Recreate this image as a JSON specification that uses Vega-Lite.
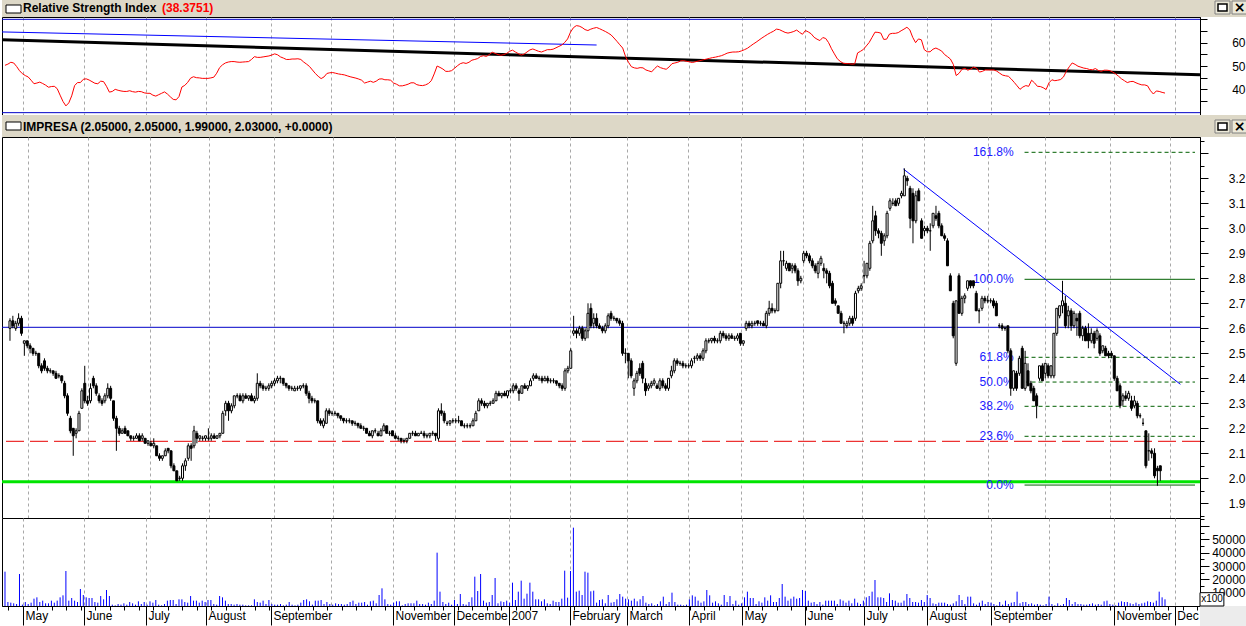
{
"$schema":"https://vega.github.io/schema/vega-lite/v6.json",
"background":"#ffffff",
"padding":0,
"spacing":0,
"bounds":"flush",
"config":{"view":{"stroke":null},"concat":{"spacing":0},"font":"Liberation Sans",
 "axis":{"labelFont":"Liberation Sans","labelFontSize":12,"labelColor":"#000000","tickColor":"#000000","domainColor":"#000000","gridColor":"#a8a8a8","gridDash":[3,3],"gridWidth":1,"title":null}},
"datasets":{
"fib":[{"lab":"161.8%","p":3.304},{"lab":"100.0%","p":2.796},{"lab":"61.8%","p":2.484},{"lab":"50.0%","p":2.385},{"lab":"38.2%","p":2.288},{"lab":"23.6%","p":2.168},{"lab":"0.0%","p":1.973}],
"d":[
{"i":0,"o":2.60,"h":2.64,"l":2.55,"c":2.63,"v":25750,"r":50.3},
{"i":1,"o":2.63,"h":2.65,"l":2.60,"c":2.61,"v":3000,"r":50.8},
{"i":2,"o":2.60,"h":2.63,"l":2.59,"c":2.62,"v":2500,"r":51.6},
{"i":3,"o":2.62,"h":2.66,"l":2.61,"c":2.64,"v":2000,"r":51.3},
{"i":4,"o":2.64,"h":2.65,"l":2.57,"c":2.58,"v":1500,"r":49.8},
{"i":5,"o":2.54,"h":2.55,"l":2.49,"c":2.55,"v":24000,"r":48.0},
{"i":6,"o":2.55,"h":2.55,"l":2.52,"c":2.53,"v":1000,"r":46.7},
{"i":7,"o":2.53,"h":2.54,"l":2.50,"c":2.52,"v":3000,"r":45.9},
{"i":8,"o":2.52,"h":2.52,"l":2.49,"c":2.50,"v":1500,"r":45.3},
{"i":9,"o":2.50,"h":2.51,"l":2.49,"c":2.50,"v":2500,"r":43.9},
{"i":10,"o":2.50,"h":2.50,"l":2.44,"c":2.45,"v":5500,"r":42.4},
{"i":11,"o":2.45,"h":2.46,"l":2.42,"c":2.43,"v":6500,"r":42.7},
{"i":12,"o":2.47,"h":2.48,"l":2.43,"c":2.44,"v":3000,"r":43.1},
{"i":13,"o":2.44,"h":2.45,"l":2.42,"c":2.43,"v":4000,"r":42.5},
{"i":14,"o":2.43,"h":2.44,"l":2.42,"c":2.43,"v":2000,"r":41.8},
{"i":15,"o":2.43,"h":2.43,"l":2.41,"c":2.42,"v":2000,"r":40.9},
{"i":16,"o":2.42,"h":2.43,"l":2.40,"c":2.40,"v":4000,"r":41.2},
{"i":17,"o":2.41,"h":2.42,"l":2.40,"c":2.41,"v":2500,"r":41.3},
{"i":18,"o":2.41,"h":2.41,"l":2.38,"c":2.39,"v":4000,"r":40.3},
{"i":19,"o":2.38,"h":2.39,"l":2.32,"c":2.33,"v":6500,"r":37.5},
{"i":20,"o":2.33,"h":2.34,"l":2.25,"c":2.26,"v":8000,"r":34.8},
{"i":21,"o":2.24,"h":2.25,"l":2.18,"c":2.19,"v":26250,"r":32.9},
{"i":22,"o":2.20,"h":2.20,"l":2.09,"c":2.17,"v":4000,"r":34.2},
{"i":23,"o":2.18,"h":2.20,"l":2.16,"c":2.19,"v":6000,"r":37.2},
{"i":24,"o":2.19,"h":2.27,"l":2.19,"c":2.26,"v":4000,"r":41.6},
{"i":25,"o":2.28,"h":2.36,"l":2.28,"c":2.35,"v":3000,"r":42.9},
{"i":26,"o":2.38,"h":2.45,"l":2.30,"c":2.31,"v":12750,"r":42.9},
{"i":27,"o":2.31,"h":2.33,"l":2.29,"c":2.30,"v":8250,"r":44.3},
{"i":28,"o":2.31,"h":2.38,"l":2.30,"c":2.36,"v":6500,"r":44.5},
{"i":29,"o":2.40,"h":2.41,"l":2.36,"c":2.37,"v":6000,"r":44.0},
{"i":30,"o":2.37,"h":2.38,"l":2.33,"c":2.34,"v":6000,"r":43.3},
{"i":31,"o":2.33,"h":2.34,"l":2.30,"c":2.31,"v":3000,"r":42.6},
{"i":32,"o":2.31,"h":2.32,"l":2.29,"c":2.30,"v":2500,"r":42.4},
{"i":33,"o":2.31,"h":2.34,"l":2.30,"c":2.33,"v":7500,"r":43.5},
{"i":34,"o":2.33,"h":2.38,"l":2.32,"c":2.36,"v":5000,"r":43.3},
{"i":35,"o":2.36,"h":2.37,"l":2.31,"c":2.32,"v":12000,"r":41.3},
{"i":36,"o":2.31,"h":2.31,"l":2.23,"c":2.24,"v":7500,"r":38.8},
{"i":37,"o":2.24,"h":2.25,"l":2.11,"c":2.20,"v":1000,"r":39.1},
{"i":38,"o":2.20,"h":2.21,"l":2.17,"c":2.18,"v":500,"r":40.0},
{"i":39,"o":2.18,"h":2.20,"l":2.18,"c":2.19,"v":1500,"r":39.6},
{"i":40,"o":2.20,"h":2.21,"l":2.18,"c":2.18,"v":1000,"r":39.3},
{"i":41,"o":2.19,"h":2.19,"l":2.17,"c":2.17,"v":2000,"r":39.1},
{"i":42,"o":2.17,"h":2.17,"l":2.15,"c":2.16,"v":1000,"r":39.1},
{"i":43,"o":2.16,"h":2.17,"l":2.15,"c":2.16,"v":3000,"r":39.4},
{"i":44,"o":2.16,"h":2.18,"l":2.16,"c":2.17,"v":2000,"r":39.0},
{"i":45,"o":2.17,"h":2.18,"l":2.15,"c":2.15,"v":1000,"r":38.8},
{"i":46,"o":2.16,"h":2.18,"l":2.15,"c":2.17,"v":3500,"r":39.1},
{"i":47,"o":2.16,"h":2.16,"l":2.14,"c":2.14,"v":1500,"r":39.0},
{"i":48,"o":2.14,"h":2.15,"l":2.13,"c":2.15,"v":3000,"r":38.5},
{"i":49,"o":2.14,"h":2.15,"l":2.13,"c":2.13,"v":1000,"r":38.3},
{"i":50,"o":2.13,"h":2.16,"l":2.12,"c":2.14,"v":3500,"r":38.3},
{"i":51,"o":2.13,"h":2.13,"l":2.09,"c":2.09,"v":2500,"r":37.5},
{"i":52,"o":2.09,"h":2.10,"l":2.07,"c":2.08,"v":4500,"r":37.1},
{"i":53,"o":2.08,"h":2.09,"l":2.07,"c":2.09,"v":1000,"r":37.7},
{"i":54,"o":2.09,"h":2.12,"l":2.09,"c":2.11,"v":500,"r":38.3},
{"i":55,"o":2.12,"h":2.12,"l":2.10,"c":2.11,"v":1500,"r":38.9},
{"i":56,"o":2.11,"h":2.11,"l":2.04,"c":2.05,"v":4000,"r":38.0},
{"i":57,"o":2.05,"h":2.06,"l":2.03,"c":2.03,"v":4500,"r":36.8},
{"i":58,"o":2.03,"h":2.03,"l":1.99,"c":1.99,"v":4500,"r":35.7},
{"i":59,"o":2.00,"h":2.01,"l":1.99,"c":2.00,"v":1500,"r":35.5},
{"i":60,"o":2.00,"h":2.06,"l":1.99,"c":2.05,"v":5000,"r":36.9},
{"i":61,"o":2.05,"h":2.08,"l":2.03,"c":2.07,"v":5000,"r":41.0},
{"i":62,"o":2.08,"h":2.14,"l":2.07,"c":2.13,"v":3000,"r":41.7},
{"i":63,"o":2.13,"h":2.14,"l":2.07,"c":2.12,"v":2500,"r":43.0},
{"i":64,"o":2.13,"h":2.21,"l":2.12,"c":2.19,"v":7500,"r":44.8},
{"i":65,"o":2.18,"h":2.19,"l":2.14,"c":2.16,"v":4000,"r":45.4},
{"i":66,"o":2.16,"h":2.17,"l":2.15,"c":2.17,"v":4000,"r":45.0},
{"i":67,"o":2.16,"h":2.17,"l":2.15,"c":2.16,"v":2500,"r":44.9},
{"i":68,"o":2.16,"h":2.17,"l":2.15,"c":2.17,"v":4000,"r":44.7},
{"i":69,"o":2.16,"h":2.20,"l":2.15,"c":2.16,"v":3000,"r":44.7},
{"i":70,"o":2.16,"h":2.18,"l":2.15,"c":2.17,"v":4500,"r":44.7},
{"i":71,"o":2.17,"h":2.18,"l":2.16,"c":2.16,"v":4500,"r":44.9},
{"i":72,"o":2.16,"h":2.17,"l":2.16,"c":2.17,"v":1500,"r":45.2},
{"i":73,"o":2.17,"h":2.18,"l":2.16,"c":2.18,"v":1000,"r":46.9},
{"i":74,"o":2.18,"h":2.27,"l":2.18,"c":2.26,"v":7500,"r":49.3},
{"i":75,"o":2.27,"h":2.31,"l":2.25,"c":2.30,"v":6500,"r":50.5},
{"i":76,"o":2.30,"h":2.31,"l":2.23,"c":2.27,"v":4000,"r":51.3},
{"i":77,"o":2.27,"h":2.30,"l":2.26,"c":2.29,"v":1500,"r":51.7},
{"i":78,"o":2.29,"h":2.33,"l":2.28,"c":2.33,"v":1500,"r":51.9},
{"i":79,"o":2.33,"h":2.34,"l":2.32,"c":2.33,"v":1000,"r":51.9},
{"i":80,"o":2.33,"h":2.34,"l":2.31,"c":2.31,"v":1500,"r":51.7},
{"i":81,"o":2.31,"h":2.34,"l":2.30,"c":2.33,"v":1000,"r":51.6},
{"i":82,"o":2.33,"h":2.34,"l":2.32,"c":2.32,"v":1000,"r":51.7},
{"i":83,"o":2.32,"h":2.33,"l":2.31,"c":2.33,"v":500,"r":51.8},
{"i":84,"o":2.33,"h":2.34,"l":2.31,"c":2.31,"v":500,"r":51.9},
{"i":85,"o":2.31,"h":2.33,"l":2.30,"c":2.32,"v":500,"r":52.8},
{"i":86,"o":2.32,"h":2.42,"l":2.31,"c":2.38,"v":5000,"r":54.0},
{"i":87,"o":2.38,"h":2.39,"l":2.36,"c":2.37,"v":3000,"r":53.7},
{"i":88,"o":2.37,"h":2.38,"l":2.35,"c":2.36,"v":2500,"r":53.7},
{"i":89,"o":2.36,"h":2.37,"l":2.35,"c":2.36,"v":4000,"r":53.9},
{"i":90,"o":2.36,"h":2.38,"l":2.35,"c":2.37,"v":1500,"r":54.1},
{"i":91,"o":2.37,"h":2.39,"l":2.36,"c":2.38,"v":4500,"r":54.3},
{"i":92,"o":2.38,"h":2.40,"l":2.37,"c":2.39,"v":1500,"r":54.7},
{"i":93,"o":2.39,"h":2.41,"l":2.38,"c":2.40,"v":1000,"r":55.2},
{"i":94,"o":2.40,"h":2.41,"l":2.38,"c":2.40,"v":1000,"r":54.8},
{"i":95,"o":2.40,"h":2.40,"l":2.37,"c":2.38,"v":1500,"r":53.9},
{"i":96,"o":2.38,"h":2.38,"l":2.36,"c":2.37,"v":500,"r":53.4},
{"i":97,"o":2.37,"h":2.37,"l":2.35,"c":2.36,"v":1000,"r":52.8},
{"i":98,"o":2.36,"h":2.37,"l":2.35,"c":2.36,"v":3000,"r":52.8},
{"i":99,"o":2.35,"h":2.37,"l":2.35,"c":2.36,"v":1000,"r":53.0},
{"i":100,"o":2.36,"h":2.37,"l":2.35,"c":2.36,"v":500,"r":53.0},
{"i":101,"o":2.36,"h":2.37,"l":2.35,"c":2.37,"v":1000,"r":53.1},
{"i":102,"o":2.37,"h":2.38,"l":2.36,"c":2.37,"v":2500,"r":52.8},
{"i":103,"o":2.37,"h":2.38,"l":2.33,"c":2.34,"v":4500,"r":51.7},
{"i":104,"o":2.34,"h":2.35,"l":2.30,"c":2.32,"v":5000,"r":50.8},
{"i":105,"o":2.32,"h":2.33,"l":2.30,"c":2.31,"v":3500,"r":49.8},
{"i":106,"o":2.31,"h":2.32,"l":2.30,"c":2.31,"v":1000,"r":48.3},
{"i":107,"o":2.31,"h":2.31,"l":2.22,"c":2.23,"v":4000,"r":46.8},
{"i":108,"o":2.23,"h":2.24,"l":2.21,"c":2.22,"v":4000,"r":45.6},
{"i":109,"o":2.21,"h":2.24,"l":2.20,"c":2.23,"v":4500,"r":44.6},
{"i":110,"o":2.22,"h":2.28,"l":2.22,"c":2.27,"v":1500,"r":45.3},
{"i":111,"o":2.27,"h":2.28,"l":2.25,"c":2.26,"v":3000,"r":46.8},
{"i":112,"o":2.26,"h":2.27,"l":2.25,"c":2.26,"v":1500,"r":47.1},
{"i":113,"o":2.26,"h":2.27,"l":2.25,"c":2.26,"v":1000,"r":47.2},
{"i":114,"o":2.26,"h":2.26,"l":2.24,"c":2.25,"v":2000,"r":46.9},
{"i":115,"o":2.25,"h":2.25,"l":2.23,"c":2.24,"v":1500,"r":46.6},
{"i":116,"o":2.24,"h":2.24,"l":2.22,"c":2.23,"v":1500,"r":46.4},
{"i":117,"o":2.23,"h":2.24,"l":2.22,"c":2.23,"v":1000,"r":46.2},
{"i":118,"o":2.23,"h":2.24,"l":2.22,"c":2.23,"v":1500,"r":45.8},
{"i":119,"o":2.23,"h":2.23,"l":2.21,"c":2.22,"v":3000,"r":45.4},
{"i":120,"o":2.22,"h":2.23,"l":2.21,"c":2.22,"v":4000,"r":45.1},
{"i":121,"o":2.22,"h":2.22,"l":2.20,"c":2.21,"v":1500,"r":44.8},
{"i":122,"o":2.21,"h":2.22,"l":2.20,"c":2.20,"v":2500,"r":44.4},
{"i":123,"o":2.20,"h":2.21,"l":2.19,"c":2.20,"v":2500,"r":43.9},
{"i":124,"o":2.20,"h":2.20,"l":2.18,"c":2.18,"v":3000,"r":42.7},
{"i":125,"o":2.18,"h":2.19,"l":2.17,"c":2.17,"v":1000,"r":43.1},
{"i":126,"o":2.17,"h":2.19,"l":2.16,"c":2.19,"v":3500,"r":43.5},
{"i":127,"o":2.19,"h":2.20,"l":2.18,"c":2.19,"v":4000,"r":43.0},
{"i":128,"o":2.18,"h":2.19,"l":2.17,"c":2.17,"v":2000,"r":43.5},
{"i":129,"o":2.17,"h":2.20,"l":2.17,"c":2.19,"v":8250,"r":44.4},
{"i":130,"o":2.19,"h":2.22,"l":2.19,"c":2.21,"v":13250,"r":44.5},
{"i":131,"o":2.21,"h":2.21,"l":2.18,"c":2.18,"v":5000,"r":44.1},
{"i":132,"o":2.18,"h":2.19,"l":2.17,"c":2.18,"v":1500,"r":44.1},
{"i":133,"o":2.19,"h":2.19,"l":2.17,"c":2.17,"v":1000,"r":43.9},
{"i":134,"o":2.17,"h":2.18,"l":2.16,"c":2.16,"v":2500,"r":42.7},
{"i":135,"o":2.16,"h":2.17,"l":2.15,"c":2.16,"v":3500,"r":42.2},
{"i":136,"o":2.16,"h":2.16,"l":2.14,"c":2.15,"v":3500,"r":41.5},
{"i":137,"o":2.15,"h":2.16,"l":2.14,"c":2.15,"v":500,"r":41.5},
{"i":138,"o":2.15,"h":2.16,"l":2.14,"c":2.16,"v":1500,"r":41.8},
{"i":139,"o":2.16,"h":2.18,"l":2.16,"c":2.18,"v":2000,"r":42.2},
{"i":140,"o":2.18,"h":2.19,"l":2.17,"c":2.18,"v":2000,"r":42.8},
{"i":141,"o":2.18,"h":2.19,"l":2.17,"c":2.17,"v":2000,"r":42.8},
{"i":142,"o":2.17,"h":2.18,"l":2.17,"c":2.18,"v":4000,"r":42.0},
{"i":143,"o":2.18,"h":2.19,"l":2.18,"c":2.18,"v":1500,"r":41.7},
{"i":144,"o":2.18,"h":2.19,"l":2.16,"c":2.17,"v":1500,"r":41.6},
{"i":145,"o":2.17,"h":2.18,"l":2.16,"c":2.17,"v":1000,"r":41.9},
{"i":146,"o":2.17,"h":2.18,"l":2.16,"c":2.18,"v":2500,"r":42.5},
{"i":147,"o":2.18,"h":2.19,"l":2.17,"c":2.18,"v":1500,"r":43.7},
{"i":148,"o":2.18,"h":2.18,"l":2.15,"c":2.17,"v":4000,"r":46.6},
{"i":149,"o":2.16,"h":2.28,"l":2.15,"c":2.27,"v":40000,"r":50.0},
{"i":150,"o":2.27,"h":2.30,"l":2.25,"c":2.26,"v":10750,"r":49.4},
{"i":151,"o":2.26,"h":2.27,"l":2.22,"c":2.23,"v":3000,"r":48.7},
{"i":152,"o":2.22,"h":2.23,"l":2.21,"c":2.22,"v":1500,"r":47.7},
{"i":153,"o":2.22,"h":2.23,"l":2.21,"c":2.23,"v":2500,"r":47.7},
{"i":154,"o":2.23,"h":2.24,"l":2.22,"c":2.23,"v":1000,"r":48.0},
{"i":155,"o":2.23,"h":2.24,"l":2.22,"c":2.23,"v":4500,"r":49.0},
{"i":156,"o":2.23,"h":2.25,"l":2.22,"c":2.23,"v":1500,"r":50.1},
{"i":157,"o":2.23,"h":2.23,"l":2.21,"c":2.21,"v":9000,"r":51.0},
{"i":158,"o":2.21,"h":2.22,"l":2.20,"c":2.21,"v":1500,"r":51.4},
{"i":159,"o":2.21,"h":2.22,"l":2.20,"c":2.21,"v":1000,"r":51.1},
{"i":160,"o":2.21,"h":2.22,"l":2.20,"c":2.21,"v":3000,"r":51.6},
{"i":161,"o":2.21,"h":2.24,"l":2.21,"c":2.23,"v":6500,"r":52.5},
{"i":162,"o":2.23,"h":2.27,"l":2.23,"c":2.26,"v":22000,"r":52.8},
{"i":163,"o":2.27,"h":2.32,"l":2.27,"c":2.31,"v":11250,"r":53.2},
{"i":164,"o":2.31,"h":2.32,"l":2.29,"c":2.30,"v":24000,"r":54.1},
{"i":165,"o":2.30,"h":2.31,"l":2.28,"c":2.29,"v":4000,"r":54.4},
{"i":166,"o":2.29,"h":2.30,"l":2.28,"c":2.30,"v":2500,"r":54.1},
{"i":167,"o":2.30,"h":2.31,"l":2.29,"c":2.30,"v":3000,"r":54.9},
{"i":168,"o":2.30,"h":2.32,"l":2.30,"c":2.31,"v":8250,"r":55.9},
{"i":169,"o":2.31,"h":2.35,"l":2.31,"c":2.34,"v":21000,"r":55.4},
{"i":170,"o":2.34,"h":2.35,"l":2.33,"c":2.33,"v":2000,"r":54.9},
{"i":171,"o":2.33,"h":2.34,"l":2.32,"c":2.34,"v":3500,"r":54.6},
{"i":172,"o":2.34,"h":2.35,"l":2.33,"c":2.33,"v":3000,"r":54.9},
{"i":173,"o":2.33,"h":2.35,"l":2.32,"c":2.35,"v":4000,"r":55.4},
{"i":174,"o":2.35,"h":2.36,"l":2.34,"c":2.35,"v":2500,"r":56.3},
{"i":175,"o":2.35,"h":2.38,"l":2.34,"c":2.37,"v":17500,"r":56.8},
{"i":176,"o":2.37,"h":2.38,"l":2.35,"c":2.36,"v":4500,"r":56.0},
{"i":177,"o":2.35,"h":2.36,"l":2.31,"c":2.34,"v":10750,"r":55.3},
{"i":178,"o":2.34,"h":2.37,"l":2.34,"c":2.37,"v":19000,"r":54.7},
{"i":179,"o":2.37,"h":2.38,"l":2.36,"c":2.36,"v":5500,"r":55.1},
{"i":180,"o":2.36,"h":2.37,"l":2.35,"c":2.37,"v":9250,"r":56.0},
{"i":181,"o":2.37,"h":2.40,"l":2.37,"c":2.39,"v":17500,"r":56.9},
{"i":182,"o":2.40,"h":2.42,"l":2.39,"c":2.41,"v":10750,"r":57.3},
{"i":183,"o":2.41,"h":2.42,"l":2.40,"c":2.40,"v":5000,"r":56.8},
{"i":184,"o":2.40,"h":2.41,"l":2.39,"c":2.40,"v":5000,"r":56.3},
{"i":185,"o":2.40,"h":2.41,"l":2.38,"c":2.39,"v":3500,"r":56.0},
{"i":186,"o":2.39,"h":2.41,"l":2.39,"c":2.40,"v":5000,"r":56.5},
{"i":187,"o":2.40,"h":2.41,"l":2.38,"c":2.39,"v":2000,"r":57.0},
{"i":188,"o":2.39,"h":2.40,"l":2.38,"c":2.39,"v":1500,"r":57.0},
{"i":189,"o":2.39,"h":2.40,"l":2.38,"c":2.39,"v":4000,"r":57.2},
{"i":190,"o":2.39,"h":2.39,"l":2.37,"c":2.38,"v":3000,"r":57.8},
{"i":191,"o":2.38,"h":2.38,"l":2.36,"c":2.37,"v":3000,"r":58.4},
{"i":192,"o":2.37,"h":2.38,"l":2.35,"c":2.36,"v":5500,"r":59.0},
{"i":193,"o":2.36,"h":2.44,"l":2.35,"c":2.43,"v":26500,"r":60.1},
{"i":194,"o":2.43,"h":2.45,"l":2.42,"c":2.44,"v":6250,"r":61.6},
{"i":195,"o":2.44,"h":2.52,"l":2.44,"c":2.51,"v":26250,"r":64.5},
{"i":196,"o":2.58,"h":2.65,"l":2.57,"c":2.59,"v":58750,"r":66.4},
{"i":197,"o":2.59,"h":2.60,"l":2.56,"c":2.58,"v":10750,"r":67.3},
{"i":198,"o":2.58,"h":2.61,"l":2.57,"c":2.60,"v":11500,"r":67.1},
{"i":199,"o":2.60,"h":2.61,"l":2.55,"c":2.56,"v":8250,"r":66.5},
{"i":200,"o":2.56,"h":2.60,"l":2.55,"c":2.59,"v":25750,"r":65.6},
{"i":201,"o":2.59,"h":2.70,"l":2.56,"c":2.66,"v":25000,"r":65.2},
{"i":202,"o":2.68,"h":2.70,"l":2.60,"c":2.61,"v":11000,"r":65.8},
{"i":203,"o":2.62,"h":2.66,"l":2.60,"c":2.64,"v":11500,"r":66.2},
{"i":204,"o":2.64,"h":2.66,"l":2.60,"c":2.61,"v":2500,"r":66.5},
{"i":205,"o":2.61,"h":2.62,"l":2.60,"c":2.60,"v":4500,"r":66.0},
{"i":206,"o":2.60,"h":2.61,"l":2.58,"c":2.59,"v":5000,"r":65.4},
{"i":207,"o":2.59,"h":2.62,"l":2.58,"c":2.61,"v":2000,"r":64.8},
{"i":208,"o":2.61,"h":2.66,"l":2.60,"c":2.65,"v":8250,"r":64.1},
{"i":209,"o":2.66,"h":2.67,"l":2.63,"c":2.64,"v":2500,"r":63.3},
{"i":210,"o":2.64,"h":2.65,"l":2.63,"c":2.64,"v":3000,"r":62.0},
{"i":211,"o":2.64,"h":2.64,"l":2.62,"c":2.63,"v":5000,"r":60.6},
{"i":212,"o":2.63,"h":2.64,"l":2.61,"c":2.62,"v":9000,"r":59.1},
{"i":213,"o":2.62,"h":2.63,"l":2.49,"c":2.50,"v":7000,"r":57.7},
{"i":214,"o":2.50,"h":2.52,"l":2.46,"c":2.50,"v":5500,"r":54.0},
{"i":215,"o":2.50,"h":2.50,"l":2.40,"c":2.47,"v":5000,"r":51.6},
{"i":216,"o":2.47,"h":2.48,"l":2.40,"c":2.41,"v":4000,"r":49.7},
{"i":217,"o":2.36,"h":2.40,"l":2.33,"c":2.39,"v":5500,"r":49.2},
{"i":218,"o":2.39,"h":2.43,"l":2.38,"c":2.42,"v":3500,"r":49.0},
{"i":219,"o":2.44,"h":2.46,"l":2.41,"c":2.42,"v":5000,"r":49.3},
{"i":220,"o":2.46,"h":2.47,"l":2.38,"c":2.40,"v":7500,"r":49.2},
{"i":221,"o":2.38,"h":2.40,"l":2.33,"c":2.35,"v":2500,"r":48.3},
{"i":222,"o":2.36,"h":2.38,"l":2.35,"c":2.37,"v":1500,"r":47.9},
{"i":223,"o":2.37,"h":2.39,"l":2.36,"c":2.38,"v":2000,"r":47.5},
{"i":224,"o":2.38,"h":2.40,"l":2.37,"c":2.39,"v":500,"r":48.9},
{"i":225,"o":2.37,"h":2.38,"l":2.36,"c":2.36,"v":1500,"r":50.0},
{"i":226,"o":2.36,"h":2.40,"l":2.35,"c":2.39,"v":3500,"r":49.3},
{"i":227,"o":2.39,"h":2.40,"l":2.36,"c":2.37,"v":7000,"r":48.9},
{"i":228,"o":2.37,"h":2.38,"l":2.35,"c":2.36,"v":1500,"r":48.6},
{"i":229,"o":2.36,"h":2.40,"l":2.35,"c":2.40,"v":3000,"r":49.6},
{"i":230,"o":2.41,"h":2.45,"l":2.40,"c":2.43,"v":10000,"r":51.0},
{"i":231,"o":2.43,"h":2.48,"l":2.42,"c":2.47,"v":3000,"r":51.3},
{"i":232,"o":2.47,"h":2.48,"l":2.45,"c":2.46,"v":1000,"r":51.6},
{"i":233,"o":2.46,"h":2.47,"l":2.45,"c":2.46,"v":1000,"r":52.2},
{"i":234,"o":2.46,"h":2.47,"l":2.44,"c":2.45,"v":500,"r":52.3},
{"i":235,"o":2.45,"h":2.46,"l":2.44,"c":2.45,"v":1000,"r":52.0},
{"i":236,"o":2.45,"h":2.46,"l":2.44,"c":2.45,"v":5000,"r":51.8},
{"i":237,"o":2.45,"h":2.48,"l":2.44,"c":2.47,"v":8000,"r":51.5},
{"i":238,"o":2.48,"h":2.49,"l":2.46,"c":2.48,"v":7000,"r":51.8},
{"i":239,"o":2.48,"h":2.50,"l":2.47,"c":2.49,"v":4000,"r":52.1},
{"i":240,"o":2.49,"h":2.50,"l":2.47,"c":2.48,"v":2500,"r":52.4},
{"i":241,"o":2.48,"h":2.52,"l":2.47,"c":2.51,"v":3500,"r":52.7},
{"i":242,"o":2.51,"h":2.56,"l":2.50,"c":2.55,"v":12000,"r":53.0},
{"i":243,"o":2.55,"h":2.56,"l":2.54,"c":2.55,"v":8000,"r":53.3},
{"i":244,"o":2.55,"h":2.56,"l":2.54,"c":2.56,"v":2500,"r":53.6},
{"i":245,"o":2.56,"h":2.57,"l":2.54,"c":2.55,"v":3500,"r":53.8},
{"i":246,"o":2.55,"h":2.56,"l":2.54,"c":2.55,"v":2000,"r":54.1},
{"i":247,"o":2.55,"h":2.59,"l":2.54,"c":2.58,"v":1000,"r":54.4},
{"i":248,"o":2.58,"h":2.59,"l":2.56,"c":2.57,"v":8250,"r":54.9},
{"i":249,"o":2.57,"h":2.58,"l":2.55,"c":2.56,"v":3000,"r":55.5},
{"i":250,"o":2.56,"h":2.58,"l":2.55,"c":2.57,"v":7500,"r":55.8},
{"i":251,"o":2.57,"h":2.58,"l":2.56,"c":2.56,"v":1500,"r":56.0},
{"i":252,"o":2.56,"h":2.57,"l":2.55,"c":2.56,"v":4000,"r":56.0},
{"i":253,"o":2.56,"h":2.58,"l":2.55,"c":2.57,"v":1000,"r":56.1},
{"i":254,"o":2.58,"h":2.58,"l":2.53,"c":2.54,"v":2000,"r":56.5},
{"i":255,"o":2.54,"h":2.55,"l":2.53,"c":2.55,"v":6500,"r":57.0},
{"i":256,"o":2.60,"h":2.63,"l":2.59,"c":2.62,"v":10750,"r":57.6},
{"i":257,"o":2.62,"h":2.63,"l":2.60,"c":2.61,"v":6000,"r":58.5},
{"i":258,"o":2.61,"h":2.63,"l":2.60,"c":2.62,"v":6000,"r":59.4},
{"i":259,"o":2.62,"h":2.63,"l":2.61,"c":2.62,"v":1500,"r":60.2},
{"i":260,"o":2.63,"h":2.63,"l":2.61,"c":2.62,"v":3500,"r":61.1},
{"i":261,"o":2.62,"h":2.63,"l":2.61,"c":2.62,"v":2500,"r":62.0},
{"i":262,"o":2.62,"h":2.63,"l":2.61,"c":2.61,"v":6500,"r":62.8},
{"i":263,"o":2.61,"h":2.67,"l":2.60,"c":2.66,"v":4000,"r":63.6},
{"i":264,"o":2.66,"h":2.71,"l":2.65,"c":2.68,"v":8000,"r":64.3},
{"i":265,"o":2.68,"h":2.70,"l":2.66,"c":2.67,"v":3000,"r":64.9},
{"i":266,"o":2.67,"h":2.68,"l":2.66,"c":2.67,"v":3000,"r":65.8},
{"i":267,"o":2.67,"h":2.78,"l":2.67,"c":2.78,"v":6000,"r":65.6},
{"i":268,"o":2.78,"h":2.91,"l":2.76,"c":2.87,"v":16500,"r":65.0},
{"i":269,"o":2.87,"h":2.91,"l":2.85,"c":2.87,"v":7000,"r":64.4},
{"i":270,"o":2.84,"h":2.87,"l":2.83,"c":2.86,"v":4000,"r":64.1},
{"i":271,"o":2.86,"h":2.86,"l":2.83,"c":2.83,"v":5500,"r":64.4},
{"i":272,"o":2.84,"h":2.86,"l":2.82,"c":2.85,"v":7000,"r":64.8},
{"i":273,"o":2.85,"h":2.86,"l":2.82,"c":2.83,"v":5500,"r":65.4},
{"i":274,"o":2.83,"h":2.84,"l":2.77,"c":2.79,"v":6000,"r":64.4},
{"i":275,"o":2.79,"h":2.81,"l":2.78,"c":2.80,"v":12000,"r":63.6},
{"i":276,"o":2.87,"h":2.91,"l":2.86,"c":2.90,"v":11250,"r":65.2},
{"i":277,"o":2.90,"h":2.91,"l":2.88,"c":2.89,"v":4000,"r":64.6},
{"i":278,"o":2.89,"h":2.90,"l":2.86,"c":2.87,"v":2500,"r":63.8},
{"i":279,"o":2.87,"h":2.88,"l":2.84,"c":2.85,"v":3000,"r":62.3},
{"i":280,"o":2.85,"h":2.86,"l":2.82,"c":2.83,"v":1500,"r":61.5},
{"i":281,"o":2.82,"h":2.87,"l":2.80,"c":2.86,"v":3000,"r":60.9},
{"i":282,"o":2.86,"h":2.89,"l":2.85,"c":2.88,"v":1000,"r":62.2},
{"i":283,"o":2.84,"h":2.86,"l":2.80,"c":2.83,"v":4000,"r":61.8},
{"i":284,"o":2.83,"h":2.84,"l":2.78,"c":2.82,"v":4000,"r":60.0},
{"i":285,"o":2.82,"h":2.83,"l":2.76,"c":2.77,"v":4000,"r":57.4},
{"i":286,"o":2.78,"h":2.79,"l":2.70,"c":2.70,"v":4000,"r":55.2},
{"i":287,"o":2.71,"h":2.72,"l":2.69,"c":2.70,"v":1500,"r":53.1},
{"i":288,"o":2.69,"h":2.69,"l":2.66,"c":2.66,"v":5000,"r":52.0},
{"i":289,"o":2.66,"h":2.67,"l":2.62,"c":2.62,"v":4000,"r":51.2},
{"i":290,"o":2.62,"h":2.63,"l":2.58,"c":2.62,"v":2500,"r":51.0},
{"i":291,"o":2.61,"h":2.63,"l":2.60,"c":2.62,"v":4000,"r":51.0},
{"i":292,"o":2.62,"h":2.65,"l":2.61,"c":2.64,"v":2000,"r":50.8},
{"i":293,"o":2.64,"h":2.65,"l":2.61,"c":2.62,"v":5500,"r":50.9},
{"i":294,"o":2.64,"h":2.75,"l":2.63,"c":2.74,"v":2500,"r":55.6},
{"i":295,"o":2.75,"h":2.77,"l":2.74,"c":2.76,"v":1500,"r":56.3},
{"i":296,"o":2.76,"h":2.78,"l":2.75,"c":2.77,"v":4000,"r":57.1},
{"i":297,"o":2.81,"h":2.87,"l":2.78,"c":2.81,"v":6500,"r":58.6},
{"i":298,"o":2.81,"h":2.86,"l":2.80,"c":2.86,"v":7500,"r":60.1},
{"i":299,"o":2.84,"h":2.95,"l":2.83,"c":2.94,"v":10750,"r":62.3},
{"i":300,"o":2.95,"h":3.09,"l":2.94,"c":3.03,"v":19500,"r":64.5},
{"i":301,"o":3.05,"h":3.07,"l":2.97,"c":2.99,"v":6500,"r":64.4},
{"i":302,"o":2.99,"h":3.00,"l":2.96,"c":2.98,"v":6500,"r":64.1},
{"i":303,"o":2.98,"h":2.99,"l":2.89,"c":2.94,"v":6000,"r":61.4},
{"i":304,"o":2.95,"h":2.98,"l":2.93,"c":2.97,"v":3000,"r":61.5},
{"i":305,"o":2.97,"h":3.07,"l":2.96,"c":3.06,"v":9500,"r":63.7},
{"i":306,"o":3.08,"h":3.12,"l":3.07,"c":3.11,"v":4500,"r":64.0},
{"i":307,"o":3.10,"h":3.12,"l":3.09,"c":3.10,"v":4000,"r":64.0},
{"i":308,"o":3.11,"h":3.12,"l":3.09,"c":3.09,"v":2500,"r":64.3},
{"i":309,"o":3.10,"h":3.12,"l":3.09,"c":3.12,"v":2500,"r":65.1},
{"i":310,"o":3.13,"h":3.15,"l":3.12,"c":3.14,"v":4000,"r":65.8},
{"i":311,"o":3.13,"h":3.24,"l":3.13,"c":3.21,"v":9000,"r":66.6},
{"i":312,"o":3.20,"h":3.21,"l":3.17,"c":3.19,"v":6000,"r":65.5},
{"i":313,"o":3.16,"h":3.17,"l":3.00,"c":3.04,"v":3000,"r":62.3},
{"i":314,"o":3.14,"h":3.16,"l":2.94,"c":3.03,"v":3000,"r":60.0},
{"i":315,"o":3.03,"h":3.15,"l":3.02,"c":3.13,"v":2500,"r":61.6},
{"i":316,"o":3.15,"h":3.16,"l":3.11,"c":3.11,"v":4500,"r":61.2},
{"i":317,"o":3.03,"h":3.04,"l":2.96,"c":2.96,"v":3000,"r":57.0},
{"i":318,"o":2.99,"h":3.01,"l":2.97,"c":3.00,"v":8250,"r":56.1},
{"i":319,"o":3.00,"h":3.01,"l":2.98,"c":2.99,"v":6000,"r":56.1},
{"i":320,"o":2.99,"h":3.02,"l":2.91,"c":2.99,"v":2000,"r":57.2},
{"i":321,"o":3.01,"h":3.06,"l":3.00,"c":3.06,"v":1500,"r":57.7},
{"i":322,"o":3.05,"h":3.09,"l":3.03,"c":3.04,"v":2500,"r":57.1},
{"i":323,"o":3.06,"h":3.07,"l":3.00,"c":3.01,"v":2500,"r":56.4},
{"i":324,"o":3.01,"h":3.02,"l":2.97,"c":2.97,"v":2500,"r":54.9},
{"i":325,"o":2.97,"h":2.98,"l":2.95,"c":2.96,"v":1500,"r":54.0},
{"i":326,"o":2.95,"h":2.96,"l":2.85,"c":2.85,"v":1000,"r":53.0},
{"i":327,"o":2.81,"h":2.82,"l":2.75,"c":2.75,"v":2000,"r":50.7},
{"i":328,"o":2.70,"h":2.71,"l":2.56,"c":2.57,"v":3500,"r":45.9},
{"i":329,"o":2.46,"h":2.71,"l":2.45,"c":2.71,"v":8250,"r":46.9},
{"i":330,"o":2.81,"h":2.82,"l":2.66,"c":2.66,"v":4500,"r":48.6},
{"i":331,"o":2.66,"h":2.73,"l":2.65,"c":2.72,"v":1500,"r":49.0},
{"i":332,"o":2.72,"h":2.74,"l":2.70,"c":2.73,"v":7000,"r":48.2},
{"i":333,"o":2.76,"h":2.79,"l":2.75,"c":2.79,"v":7000,"r":48.7},
{"i":334,"o":2.79,"h":2.79,"l":2.76,"c":2.77,"v":2000,"r":49.5},
{"i":335,"o":2.79,"h":2.79,"l":2.76,"c":2.77,"v":1000,"r":49.1},
{"i":336,"o":2.74,"h":2.75,"l":2.67,"c":2.67,"v":2500,"r":47.4},
{"i":337,"o":2.67,"h":2.68,"l":2.62,"c":2.67,"v":4000,"r":47.7},
{"i":338,"o":2.68,"h":2.73,"l":2.67,"c":2.72,"v":1500,"r":48.3},
{"i":339,"o":2.72,"h":2.73,"l":2.70,"c":2.71,"v":3000,"r":48.3},
{"i":340,"o":2.71,"h":2.73,"l":2.70,"c":2.71,"v":2500,"r":48.3},
{"i":341,"o":2.71,"h":2.72,"l":2.70,"c":2.71,"v":1500,"r":48.3},
{"i":342,"o":2.71,"h":2.72,"l":2.68,"c":2.69,"v":500,"r":47.8},
{"i":343,"o":2.70,"h":2.71,"l":2.65,"c":2.65,"v":3000,"r":46.9},
{"i":344,"o":2.61,"h":2.62,"l":2.60,"c":2.61,"v":1000,"r":46.1},
{"i":345,"o":2.61,"h":2.62,"l":2.59,"c":2.60,"v":4000,"r":45.8},
{"i":346,"o":2.60,"h":2.61,"l":2.59,"c":2.60,"v":1500,"r":45.6},
{"i":347,"o":2.61,"h":2.61,"l":2.50,"c":2.51,"v":2500,"r":44.4},
{"i":348,"o":2.51,"h":2.52,"l":2.33,"c":2.36,"v":3000,"r":43.0},
{"i":349,"o":2.36,"h":2.43,"l":2.35,"c":2.43,"v":10750,"r":41.5},
{"i":350,"o":2.42,"h":2.43,"l":2.35,"c":2.36,"v":2000,"r":40.0},
{"i":351,"o":2.42,"h":2.49,"l":2.41,"c":2.48,"v":3000,"r":41.0},
{"i":352,"o":2.52,"h":2.53,"l":2.36,"c":2.36,"v":3000,"r":41.6},
{"i":353,"o":2.36,"h":2.51,"l":2.35,"c":2.46,"v":1500,"r":41.3},
{"i":354,"o":2.43,"h":2.46,"l":2.37,"c":2.37,"v":2000,"r":43.9},
{"i":355,"o":2.38,"h":2.39,"l":2.34,"c":2.35,"v":1000,"r":42.8},
{"i":356,"o":2.36,"h":2.37,"l":2.31,"c":2.31,"v":1500,"r":41.3},
{"i":357,"o":2.33,"h":2.34,"l":2.24,"c":2.29,"v":1000,"r":41.2},
{"i":358,"o":2.40,"h":2.45,"l":2.39,"c":2.45,"v":500,"r":40.7},
{"i":359,"o":2.45,"h":2.46,"l":2.39,"c":2.39,"v":1500,"r":39.9},
{"i":360,"o":2.42,"h":2.46,"l":2.40,"c":2.46,"v":7000,"r":42.8},
{"i":361,"o":2.45,"h":2.46,"l":2.40,"c":2.41,"v":1500,"r":44.1},
{"i":362,"o":2.41,"h":2.45,"l":2.40,"c":2.45,"v":500,"r":43.7},
{"i":363,"o":2.41,"h":2.58,"l":2.40,"c":2.58,"v":2000,"r":43.9},
{"i":364,"o":2.58,"h":2.68,"l":2.57,"c":2.68,"v":500,"r":44.2},
{"i":365,"o":2.65,"h":2.69,"l":2.64,"c":2.69,"v":1500,"r":45.3},
{"i":366,"o":2.69,"h":2.79,"l":2.66,"c":2.71,"v":6000,"r":47.8},
{"i":367,"o":2.70,"h":2.73,"l":2.60,"c":2.61,"v":4500,"r":49.7},
{"i":368,"o":2.65,"h":2.69,"l":2.60,"c":2.67,"v":1500,"r":51.3},
{"i":369,"o":2.67,"h":2.68,"l":2.59,"c":2.61,"v":3000,"r":50.7},
{"i":370,"o":2.61,"h":2.67,"l":2.60,"c":2.66,"v":1500,"r":49.9},
{"i":371,"o":2.64,"h":2.66,"l":2.57,"c":2.63,"v":1500,"r":49.5},
{"i":372,"o":2.66,"h":2.67,"l":2.56,"c":2.57,"v":1000,"r":49.1},
{"i":373,"o":2.57,"h":2.61,"l":2.55,"c":2.60,"v":1000,"r":48.9},
{"i":374,"o":2.60,"h":2.61,"l":2.55,"c":2.55,"v":1500,"r":48.5},
{"i":375,"o":2.58,"h":2.62,"l":2.52,"c":2.55,"v":2000,"r":48.4},
{"i":376,"o":2.55,"h":2.60,"l":2.54,"c":2.58,"v":1000,"r":48.9},
{"i":377,"o":2.58,"h":2.59,"l":2.52,"c":2.54,"v":1500,"r":48.1},
{"i":378,"o":2.56,"h":2.60,"l":2.55,"c":2.59,"v":1000,"r":47.7},
{"i":379,"o":2.57,"h":2.58,"l":2.49,"c":2.50,"v":3500,"r":48.2},
{"i":380,"o":2.51,"h":2.53,"l":2.50,"c":2.53,"v":4000,"r":48.2},
{"i":381,"o":2.52,"h":2.53,"l":2.49,"c":2.49,"v":1500,"r":48.0},
{"i":382,"o":2.50,"h":2.51,"l":2.48,"c":2.49,"v":1000,"r":47.4},
{"i":383,"o":2.50,"h":2.51,"l":2.48,"c":2.49,"v":500,"r":46.6},
{"i":384,"o":2.49,"h":2.49,"l":2.39,"c":2.40,"v":2500,"r":45.6},
{"i":385,"o":2.40,"h":2.41,"l":2.35,"c":2.35,"v":3500,"r":44.5},
{"i":386,"o":2.37,"h":2.38,"l":2.28,"c":2.29,"v":3000,"r":43.7},
{"i":387,"o":2.31,"h":2.34,"l":2.29,"c":2.33,"v":3000,"r":42.9},
{"i":388,"o":2.33,"h":2.35,"l":2.31,"c":2.32,"v":2000,"r":43.3},
{"i":389,"o":2.32,"h":2.35,"l":2.31,"c":2.34,"v":1500,"r":43.4},
{"i":390,"o":2.31,"h":2.33,"l":2.27,"c":2.28,"v":2500,"r":42.8},
{"i":391,"o":2.29,"h":2.33,"l":2.28,"c":2.31,"v":1500,"r":42.3},
{"i":392,"o":2.30,"h":2.31,"l":2.24,"c":2.25,"v":2000,"r":41.9},
{"i":393,"o":2.25,"h":2.26,"l":2.24,"c":2.25,"v":2500,"r":41.9},
{"i":394,"o":2.22,"h":2.24,"l":2.21,"c":2.22,"v":3500,"r":41.5},
{"i":395,"o":2.19,"h":2.19,"l":2.04,"c":2.05,"v":3000,"r":39.4},
{"i":396,"o":2.11,"h":2.18,"l":2.07,"c":2.11,"v":2500,"r":38.0},
{"i":397,"o":2.11,"h":2.12,"l":2.08,"c":2.10,"v":4000,"r":39.3},
{"i":398,"o":2.10,"h":2.12,"l":2.00,"c":2.01,"v":10750,"r":39.1},
{"i":399,"o":2.04,"h":2.05,"l":1.97,"c":2.03,"v":6500,"r":38.7},
{"i":400,"o":2.05,"h":2.05,"l":1.99,"c":2.03,"v":5000,"r":38.4}
]},
"vconcat":[
{"width":1246,"height":17,"view":{"fill":"#ddd8c7","stroke":null},"data":{"values":[{}]},
 "layer":[
  {"mark":{"type":"rect","x":4,"x2":19,"y":5,"y2":13,"fill":"#ffffff","stroke":"#000000","strokeWidth":1},"encoding":{}},
  {"mark":{"type":"text","text":"Relative Strength Index","x":21,"y":8,"align":"left","baseline":"middle","fontWeight":"bold","fontSize":12,"font":"Liberation Sans","color":"#000000"},"encoding":{}},
  {"mark":{"type":"text","text":"(38.3751)","x":160,"y":8,"align":"left","baseline":"middle","fontWeight":"bold","fontSize":12,"font":"Liberation Sans","color":"#ff0000"},"encoding":{}},
  {"mark":{"type":"rect","x":1213,"x2":1228,"y":1,"y2":14,"fill":"#ece9d8","stroke":"#808080","strokeWidth":1},"encoding":{}},
  {"mark":{"type":"rect","x":1230,"x2":1245,"y":1,"y2":14,"fill":"#ece9d8","stroke":"#808080","strokeWidth":1},"encoding":{}},
  {"mark":{"type":"rect","x":1216,"x2":1225,"y":4,"y2":11,"fill":"#ffffff","stroke":"#000000","strokeWidth":1.5},"encoding":{}},
  {"mark":{"type":"text","text":"×","x":1237.5,"y":8,"align":"center","baseline":"middle","fontWeight":"bold","fontSize":14,"font":"DejaVu Sans","color":"#000000"},"encoding":{}}
 ]},
{"width":1198,"height":98,"view":{"fill":"#ffffff","stroke":"#000000","strokeWidth":1},
 "resolve":{"axis":{"x":"independent","y":"independent"}},
 "layer":[
  {"data":{"values":[{"lv":70},{"lv":30}]},"mark":{"type":"rule","color":"#0000c8","strokeWidth":1},
   "encoding":{"y":{"field":"lv","type":"quantitative","scale":{"domain":[29,71],"nice":false,"zero":false},"axis":null}}},
  {"data":{"values":[{}]},"mark":{"type":"rule","color":"#0000ff","strokeWidth":1},
   "encoding":{"x":{"datum":-1.034,"type":"quantitative","scale":{"domain":[-1.034,412.07],"nice":false,"zero":false},"axis":null},"y":{"datum":64.6,"type":"quantitative","axis":null},"x2":{"datum":204},"y2":{"datum":59.0}}},
  {"data":{"values":[{}]},"mark":{"type":"rule","color":"#000000","strokeWidth":3},
   "encoding":{"x":{"datum":-1.034,"type":"quantitative","axis":null},"y":{"datum":61.2,"type":"quantitative","axis":null},"x2":{"datum":412.07},"y2":{"datum":46.2}}},
  {"data":{"name":"d"},"mark":{"type":"line","color":"#ff0000","strokeWidth":1},
   "encoding":{
    "x":{"field":"i","type":"quantitative","axis":{"orient":"bottom","grid":true,"ticks":false,"labels":false,"domain":false,"values":[6.2,27.2,48.6,69.3,91.7,112.4,133.8,154.8,173.8,194.8,214.5,235.9,254.1,275.9,296.2,317.9,340,360,382.4,403.4]}},
    "y":{"field":"r","type":"quantitative","axis":{"orient":"right","grid":false,"domain":true,"values":[35,40,45,50,55,60,65,70],"tickSize":7,"labelAlign":"right","labelBaseline":"middle","labelPadding":38,"labelExpr":"(datum.value % 10 == 0 && datum.value < 70) ? datum.value : ''"}}}}
 ]},
{"width":1246,"height":22,"view":{"fill":"#ddd8c7","stroke":null},"data":{"values":[{}]},
 "layer":[
  {"mark":{"type":"rect","x":4,"x2":19,"y":7,"y2":15,"fill":"#ffffff","stroke":"#000000","strokeWidth":1},"encoding":{}},
  {"mark":{"type":"text","text":"IMPRESA (2.05000, 2.05000, 1.99000, 2.03000, +0.0000)","x":21,"y":12,"align":"left","baseline":"middle","fontWeight":"bold","fontSize":12,"font":"Liberation Sans","color":"#000000"},"encoding":{}},
  {"mark":{"type":"rect","x":1213,"x2":1228,"y":5,"y2":18,"fill":"#ece9d8","stroke":"#808080","strokeWidth":1},"encoding":{}},
  {"mark":{"type":"rect","x":1230,"x2":1245,"y":5,"y2":18,"fill":"#ece9d8","stroke":"#808080","strokeWidth":1},"encoding":{}},
  {"mark":{"type":"rect","x":1216,"x2":1225,"y":8,"y2":15,"fill":"#ffffff","stroke":"#000000","strokeWidth":1.5},"encoding":{}},
  {"mark":{"type":"text","text":"×","x":1237.5,"y":12,"align":"center","baseline":"middle","fontWeight":"bold","fontSize":14,"font":"DejaVu Sans","color":"#000000"},"encoding":{}}
 ]},
{"width":1198,"height":381,"view":{"fill":"#ffffff","stroke":"#000000","strokeWidth":1},
 "resolve":{"axis":{"x":"independent","y":"independent"}},
 "layer":[
  {"data":{"values":[{}]},"mark":{"type":"rule","color":"#0000c8","strokeWidth":1},
   "encoding":{"y":{"datum":2.604,"type":"quantitative","scale":{"domain":[1.8412,3.3652],"nice":false,"zero":false},"axis":null}}},
  {"data":{"values":[{}]},"mark":{"type":"rule","color":"#e80000","strokeWidth":1,"strokeDash":[18,6]},
   "encoding":{"y":{"datum":2.148,"type":"quantitative","axis":null}}},
  {"data":{"values":[{}]},"mark":{"type":"rule","color":"#00e400","strokeWidth":3},
   "encoding":{"y":{"datum":1.986,"type":"quantitative","axis":null}}},
  {"data":{"name":"fib"},"transform":[{"filter":"datum.lab == '100.0%' || datum.lab == '0.0%'"}],
   "mark":{"type":"rule","color":"#006000","strokeWidth":1},
   "encoding":{"x":{"datum":352.8,"type":"quantitative","scale":{"domain":[-1.034,412.07],"nice":false,"zero":false},"axis":null},"x2":{"datum":412.07},"y":{"field":"p","type":"quantitative","axis":null}}},
  {"data":{"name":"fib"},"transform":[{"filter":"datum.lab != '100.0%' && datum.lab != '0.0%'"}],
   "mark":{"type":"rule","color":"#006000","strokeWidth":1,"strokeDash":[4,3]},
   "encoding":{"x":{"datum":352.8,"type":"quantitative","axis":null},"x2":{"datum":412.07},"y":{"field":"p","type":"quantitative","axis":null}}},
  {"data":{"name":"fib"},"mark":{"type":"text","align":"right","baseline":"middle","color":"#1a1aff","fontSize":12,"font":"Liberation Sans"},
   "encoding":{"x":{"datum":349.0,"type":"quantitative","axis":null},"y":{"field":"p","type":"quantitative","axis":null},"text":{"field":"lab"}}},
  {"data":{"values":[{}]},"mark":{"type":"rule","color":"#0000ff","strokeWidth":1},
   "encoding":{"x":{"datum":310.7,"type":"quantitative","axis":null},"y":{"datum":3.237,"type":"quantitative","axis":null},"x2":{"datum":407.0},"y2":{"datum":2.376}}},
  {"data":{"name":"d"},"mark":{"type":"rule","color":"#000000","strokeWidth":1},
   "encoding":{
    "x":{"field":"i","type":"quantitative","axis":{"orient":"bottom","grid":true,"ticks":false,"labels":false,"domain":false,"values":[6.2,27.2,48.6,69.3,91.7,112.4,133.8,154.8,173.8,194.8,214.5,235.9,254.1,275.9,296.2,317.9,340,360,382.4,403.4]}},
    "y":{"field":"l","type":"quantitative","axis":{"orient":"right","grid":false,"domain":true,"values":[1.9,2.0,2.1,2.2,2.3,2.4,2.5,2.6,2.7,2.8,2.9,3.0,3.1,3.2,3.3],"tickSize":8,"labelAlign":"right","labelBaseline":"middle","labelPadding":37,"labelExpr":"datum.value > 3.25 ? '' : format(datum.value, '.1f')"}},
    "y2":{"field":"h"}}},
  {"data":{"name":"d"},"mark":{"type":"bar","size":2,"stroke":"#000000","strokeWidth":1},
   "encoding":{
    "x":{"field":"i","type":"quantitative","axis":null},
    "y":{"field":"o","type":"quantitative","axis":{"orient":"right","grid":false,"domain":false,"labels":false,"tickSize":4,"values":[1.85,1.95,2.05,2.15,2.25,2.35,2.45,2.55,2.65,2.75,2.85,2.95,3.05,3.15,3.25,3.35]}},
    "y2":{"field":"c"},
    "fill":{"condition":{"test":"datum.c < datum.o","value":"#000000"},"value":"#ffffff"}}}
 ]},
{"width":1198,"height":88,"view":{"fill":"#ffffff","stroke":"#000000","strokeWidth":1},
 "resolve":{"axis":{"x":"independent","y":"independent"}},
 "layer":[
  {"data":{"name":"d"},"mark":{"type":"rule","color":"#0000ff","strokeWidth":1},
   "encoding":{
    "x":{"field":"i","type":"quantitative","scale":{"domain":[-1.034,412.07],"nice":false,"zero":false},"axis":{"orient":"bottom","grid":true,"ticks":false,"labels":false,"domain":true,"values":[6.2,27.2,48.6,69.3,91.7,112.4,133.8,154.8,173.8,194.8,214.5,235.9,254.1,275.9,296.2,317.9,340,360,382.4,403.4]}},
    "y":{"field":"v","type":"quantitative","scale":{"domain":[0,66000],"nice":false,"zero":false},"axis":{"orient":"right","grid":false,"domain":true,"values":[10000,20000,30000,40000,50000,60000],"tickSize":9,"labelAlign":"right","labelBaseline":"middle","labelPadding":36,"labelExpr":"datum.value <= 50000 ? datum.value : ''"}},
    "y2":{"datum":0}}},
  {"data":{"values":[{}]},"mark":{"type":"rect","fill":"#ececec"},
   "encoding":{
    "x":{"datum":412.07,"type":"quantitative","axis":{"orient":"bottom","grid":false,"domain":false,"ticks":true,"tickSize":19,"labels":true,"labelAlign":"left","labelBaseline":"top","labelPadding":-15,"labelOffset":2,"labelOverlap":false,"labelBound":false,"labelFontSize":12,
      "values":[6.2,27.2,48.6,69.3,91.7,133.8,154.8,173.8,194.8,214.5,235.9,254.1,275.9,296.2,317.9,340,382.4,403.4],
      "labelExpr":"['May','June','July','August','September','November','Decembe','2007','February','March','April','May','June','July','August','September','November','Dec'][indexof([6.2,27.2,48.6,69.3,91.7,133.8,154.8,173.8,194.8,214.5,235.9,254.1,275.9,296.2,317.9,340,382.4,403.4], datum.value)]"}},
    "x2":{"datum":430},
    "y":{"datum":0,"type":"quantitative","axis":{"orient":"right","grid":false,"domain":false,"labels":false,"tickSize":4,"values":[5000,15000,25000,35000,45000,55000,65000]}},
    "y2":{"datum":-15000}}},
  {"data":{"values":[{}]},"mark":{"type":"rect","fill":"#ffffff","stroke":"#000000","strokeWidth":1},
   "encoding":{
    "x":{"datum":412.07,"type":"quantitative","axis":{"orient":"bottom","grid":false,"domain":false,"ticks":true,"tickSize":4,"labels":false,
      "values":[1.2,6.2,11.2,16.2,21.2,26.2,31.2,36.2,41.2,46.2,51.2,56.2,61.2,66.2,71.2,76.2,81.2,86.2,91.2,96.2,101.2,106.2,111.2,116.2,121.2,126.2,131.2,136.2,141.2,146.2,151.2,156.2,161.2,166.2,171.2,176.2,181.2,186.2,191.2,196.2,201.2,206.2,211.2,216.2,221.2,226.2,231.2,236.2,241.2,246.2,251.2,256.2,261.2,266.2,271.2,276.2,281.2,286.2,291.2,296.2,301.2,306.2,311.2,316.2,321.2,326.2,331.2,336.2,341.2,346.2,351.2,356.2,361.2,366.2,371.2,376.2,381.2,386.2,391.2,396.2,401.2,406.2,411.2]}},
    "x2":{"datum":420.3},
    "y":{"datum":0,"type":"quantitative","axis":null},
    "y2":{"datum":10000}}},
  {"data":{"values":[{}]},"mark":{"type":"text","text":"x100","align":"center","baseline":"middle","fontSize":10,"font":"Liberation Sans","color":"#000000"},
   "encoding":{"x":{"datum":416.2,"type":"quantitative","axis":null},"y":{"datum":5000,"type":"quantitative","axis":null}}}
 ]}
]
}
